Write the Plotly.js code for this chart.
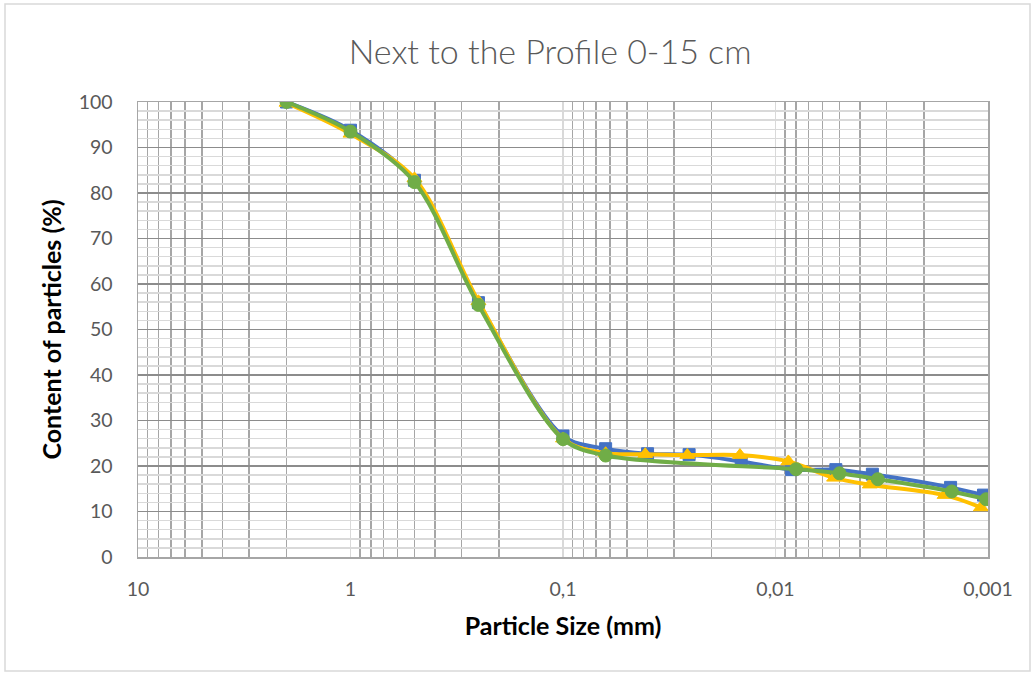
<!DOCTYPE html>
<html>
<head>
<meta charset="utf-8">
<script src="https://cdn.plot.ly/plotly-3.0.1.min.js"></script>
<style>html,body{margin:0;padding:0;background:#fff;}#chart{width:1036px;height:675px;}</style>
</head>
<body>
<div id="chart"></div>
<script>
// Particle sizes (mm) and contents (%) for the three series
const sizeBlue   = [2, 1, 0.5, 0.25, 0.1, 0.063, 0.040, 0.0255, 0.0145, 0.0084, 0.0052, 0.0035, 0.0015, 0.00105];
const valueBlue  = [100, 93.8, 82.8, 55.9, 26.6, 23.8, 22.7, 22.5, 21.0, 19.2, 19.2, 18.2, 15.3, 13.6];
const sizeYellow = [2, 1, 0.5, 0.25, 0.1, 0.063, 0.041, 0.026, 0.0147, 0.0087, 0.0053, 0.0036, 0.0016, 0.00108];
const valueYellow= [99.8, 93.0, 83.2, 56.2, 26.0, 22.8, 22.6, 22.4, 22.4, 21.0, 17.4, 15.9, 13.6, 10.9];
const sizeGreen  = [2, 1, 0.5, 0.25, 0.1, 0.063, 0.0080, 0.0050, 0.0033, 0.00148, 0.00102];
const valueGreen = [100, 93.5, 82.4, 55.4, 25.9, 22.3, 19.3, 18.4, 17.1, 14.4, 12.7];

const xTickVals = [10, 1, 0.1, 0.01, 0.001];
const xTickText = ['10', '1', '0,1', '0,01', '0,001'];
const chartTitle = 'Next to the Profile 0-15 cm';
const xTitle = 'Particle Size (mm)';
const yTitle = 'Content of particles (%)';

// minor grid positions 2..9 within each decade
const minorX = [];
[1, 0.1, 0.01, 0.001].forEach(function(d){ for (let k = 2; k <= 9; k++) minorX.push(+(k*d).toPrecision(3)); });

function series(x, y, color, symbol, size){
  return {
    x: x, y: y, type: 'scatter', mode: 'lines+markers',
    line: {color: color, width: 4, shape: 'spline', smoothing: 0.9},
    marker: {color: color, size: size, symbol: symbol, line: {color: color, width: 1}},
    hoverinfo: 'x+y', showlegend: false
  };
}

const data = [
  series(sizeBlue, valueBlue, '#4472C4', 'square', 12),
  series(sizeYellow, valueYellow, '#FFC000', 'triangle-up', 13),
  series(sizeGreen, valueGreen, '#70AD47', 'circle', 13)
];

const layout = {
  width: 1036, height: 675,
  margin: {l: 138, r: 48, t: 102, b: 118},
  paper_bgcolor: '#ffffff', plot_bgcolor: '#ffffff',
  font: {family: 'Lato, "Open Sans", sans-serif', color: '#595959', size: 19},
  title: {text: chartTitle, font: {family: 'Lato, sans-serif', size: 34, weight: 300, color: '#595959'},
          x: 0.531, xref: 'container', xanchor: 'center', y: 0.923, yref: 'container', yanchor: 'middle'},
  xaxis: {
    type: 'log', range: [1, -3], autorange: false,
    tickmode: 'array', tickvals: xTickVals, ticktext: xTickText,
    showgrid: true, gridcolor: '#d9d9d9', gridwidth: 1.5,
    minor: {tickmode: 'array', tickvals: minorX, showgrid: true, gridcolor: '#a6a6a6', gridwidth: 1.5, ticks: ''},
    showline: true, linecolor: '#a6a6a6', linewidth: 1.5, mirror: true,
    ticks: '', ticklabelstandoff: 14, zeroline: false,
    tickfont: {size: 19.5, color: '#595959'},
    title: {text: '<b>' + xTitle + '</b>', font: {size: 25, color: '#000000'}, standoff: 18}
  },
  yaxis: {
    range: [0, 100], autorange: false, dtick: 10, tick0: 0,
    showgrid: true, gridcolor: '#8c8c8c', gridwidth: 1.5,
    minor: {dtick: 2, showgrid: true, gridcolor: '#d9d9d9', gridwidth: 1.5, ticks: ''},
    showline: true, linecolor: '#a6a6a6', linewidth: 1.5, mirror: true,
    ticks: '', ticklabelstandoff: 20, zeroline: false,
    tickfont: {size: 19.5, color: '#595959'},
    title: {text: '<b>' + yTitle + '</b>', font: {size: 25, color: '#000000'}, standoff: 10}
  },
  shapes: [{
    type: 'rect', xref: 'paper', yref: 'paper',
    x0: (5 - 138) / 850, x1: (1030 - 138) / 850,
    y0: (675 - 118 - 671) / 455, y1: (675 - 118 - 4) / 455,
    line: {color: '#d9d9d9', width: 1.5}, fillcolor: 'rgba(0,0,0,0)', layer: 'below'
  }]
};

Plotly.newPlot('chart', data, layout, {displayModeBar: false, staticPlot: true});
</script>
</body>
</html>
